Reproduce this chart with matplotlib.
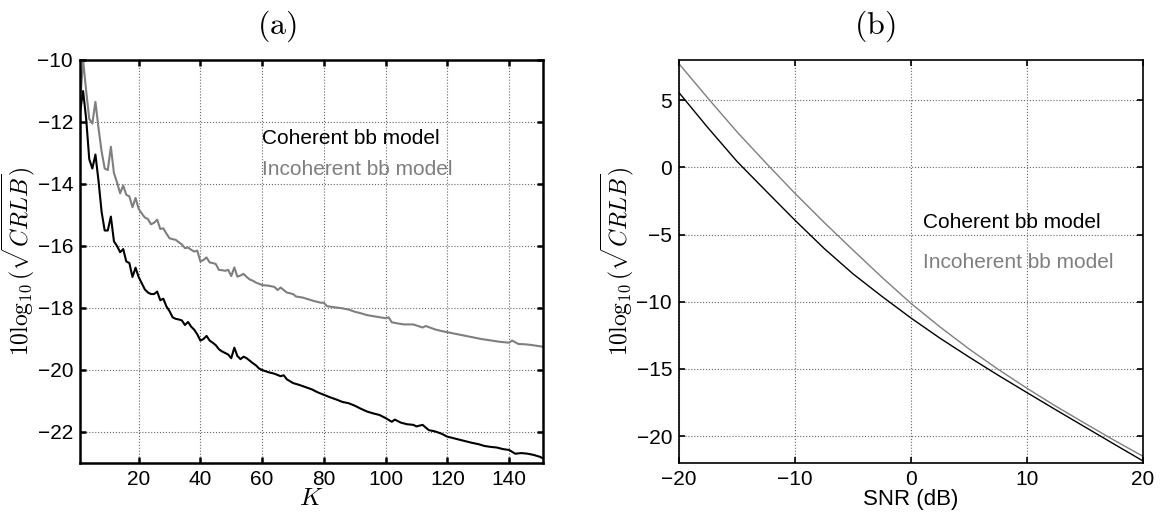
import matplotlib as mpl
mpl.use('Agg')
import matplotlib.pyplot as plt

# panel (a): CRLB versus number of snapshots K
k_coh = [1, 2, 3, 4, 5, 6, 7, 8, 9, 10, 11, 12, 13, 14, 15, 16, 17, 18, 19, 20,
         21, 22, 23, 24, 25, 26, 27, 28, 29, 30, 31, 32, 33, 34, 35, 36, 37, 38, 39, 40,
         41, 42, 43, 44, 45, 46, 47, 48, 49, 50, 51, 52, 53, 54, 55, 56, 57, 58, 59, 60,
         62, 64, 66, 67, 68, 70, 72, 74, 76, 78, 80, 82, 84, 86, 88, 90, 92, 94, 96, 98,
         100, 102, 103, 105, 107, 109, 110, 112, 114, 116, 118, 120, 122, 124, 126, 128,
         130, 132, 134, 136, 138, 140, 142, 144, 146, 148, 150, 151]
crlb_coh = [-11.7, -11.0, -11.9, -13.2, -13.5, -13.05, -13.9, -14.9, -15.5, -15.5,
            -15.05, -15.85, -16.0, -16.2, -16.1, -16.5, -16.55, -17.0, -16.7, -17.0,
            -17.2, -17.4, -17.5, -17.55, -17.55, -17.47, -17.75, -17.7, -17.95, -18.1,
            -18.3, -18.35, -18.37, -18.4, -18.55, -18.45, -18.6, -18.7, -18.85, -19.05,
            -19.0, -18.9, -19.05, -19.12, -19.2, -19.33, -19.4, -19.45, -19.5, -19.62,
            -19.28, -19.55, -19.65, -19.57, -19.62, -19.7, -19.78, -19.85, -19.95, -20.0,
            -20.07, -20.12, -20.2, -20.17, -20.3, -20.42, -20.48, -20.55, -20.62, -20.72,
            -20.8, -20.88, -20.95, -21.03, -21.07, -21.15, -21.25, -21.34, -21.4, -21.45,
            -21.55, -21.67, -21.6, -21.7, -21.75, -21.77, -21.82, -21.77, -21.94, -21.98,
            -22.05, -22.15, -22.2, -22.25, -22.3, -22.35, -22.39, -22.45, -22.48, -22.5,
            -22.55, -22.58, -22.7, -22.68, -22.7, -22.74, -22.8, -22.85]

k_inc = [1, 2, 3, 4, 5, 6, 7, 8, 9, 10, 11, 12, 13, 14, 15, 16, 17, 18, 19, 20,
         21, 22, 23, 24, 25, 26, 27, 28, 29, 30, 31, 32, 33, 34, 35, 36, 37, 38, 39, 40,
         41, 42, 43, 44, 45, 46, 47, 48, 49, 50, 51, 52, 53, 54, 55, 56, 57, 58, 60,
         62, 64, 65, 66, 68, 70, 71, 73, 75, 77, 79, 80, 81, 83, 86, 88, 90, 92, 94, 97,
         100, 101, 102, 104, 106, 109, 112, 113, 116, 118, 120, 122, 124, 126, 129, 131,
         133, 135, 137, 140, 141, 143, 145, 147, 149, 151]
crlb_inc = [-11.45, -10.0, -11.0, -11.9, -12.05, -11.35, -12.2, -12.95, -13.5, -13.55,
            -12.8, -13.65, -13.95, -14.3, -14.05, -14.35, -14.4, -14.75, -14.45, -14.8,
            -14.95, -15.08, -15.13, -15.3, -15.25, -15.15, -15.45, -15.43, -15.6, -15.75,
            -15.78, -15.8, -15.88, -15.95, -16.07, -16.05, -16.12, -16.18, -16.15, -16.5,
            -16.45, -16.37, -16.53, -16.55, -16.58, -16.77, -16.78, -16.8, -16.77, -16.97,
            -16.69, -16.99, -16.95, -16.9, -17.0, -17.08, -17.12, -17.18, -17.26,
            -17.28, -17.32, -17.42, -17.34, -17.5, -17.55, -17.63, -17.66, -17.72, -17.78,
            -17.83, -17.83, -17.94, -17.97, -18.01, -18.05, -18.12, -18.17, -18.23, -18.28,
            -18.33, -18.3, -18.46, -18.5, -18.53, -18.53, -18.63, -18.58, -18.69, -18.74,
            -18.78, -18.82, -18.86, -18.9, -18.96, -19.0, -19.03, -19.06, -19.09, -19.12,
            -19.05, -19.16, -19.17, -19.19, -19.22, -19.25]

# panel (b): CRLB versus SNR
snr = [-20, -17.5, -15, -12.5, -10, -7.5, -5, -2.5, 0, 2.5, 5, 7.5, 10, 12.5, 15, 17.5, 20]
val_coh = [5.57, 2.95, 0.45, -1.75, -3.93, -6.02, -7.92, -9.6, -11.21, -12.71, -14.11,
           -15.46, -16.76, -18.05, -19.32, -20.59, -21.85]
val_inc = [7.72, 5.15, 2.65, 0.33, -1.93, -4.08, -6.15, -8.18, -10.12, -11.87, -13.51,
           -15.02, -16.44, -17.78, -19.05, -20.3, -21.5]

label_coh = 'Coherent bb model'
label_inc = 'Incoherent bb model'
gray = '#7f7f7f'

plt.rcParams['font.family'] = ['Liberation Sans', 'DejaVu Sans']
plt.rcParams['mathtext.fontset'] = 'cm'
plt.rcParams['font.size'] = 15

dpi = 100
fig = plt.figure(dpi=dpi, figsize=(1162 / dpi, 516 / dpi))
ax1 = fig.add_axes([80 / 1162, 1 - 463 / 516, 463 / 1162, 403 / 516])
ax2 = fig.add_axes([679 / 1162, 1 - 463 / 516, 464 / 1162, 403 / 516])

ylab = r'$10\log_{10}(\sqrt{CRLB})$'

ax1.plot(k_coh, crlb_coh, color='black', lw=1.5)
ax1.plot(k_inc, crlb_inc, color=gray, lw=1.5)
ax1.set_xlim(1, 151)
ax1.set_ylim(-23, -10)
ax1.set_xticks(range(20, 141, 20))
ax1.set_yticks(range(-22, -9, 2))
ax1.set_xlabel(r'$K$', fontsize=18, labelpad=-2)
ax1.set_ylabel(ylab, fontsize=17, labelpad=0)
ax1.text(60, -12.52, label_coh, color='black', va='center', fontsize=15)
ax1.text(60, -13.54, label_inc, color=gray, va='center', fontsize=15)
fig.text(277 / 1162, 1 - 26 / 516, r'$\mathrm{(a)}$', ha='center', va='center', fontsize=23)

ax2.plot(snr, val_coh, color='black', lw=1.0)
ax2.plot(snr, val_inc, color=gray, lw=1.0)
ax2.set_xlim(-20, 20)
ax2.set_ylim(-22, 8)
ax2.set_xticks([-20, -10, 0, 10, 20])
ax2.set_yticks([-20, -15, -10, -5, 0, 5])
ax2.set_xlabel('SNR (dB)', fontsize=16, labelpad=0)
ax2.set_ylabel(ylab, fontsize=17, labelpad=0)
ax2.text(1.0, -4.09, label_coh, color='black', va='center', fontsize=15)
ax2.text(1.0, -7.04, label_inc, color=gray, va='center', fontsize=15)
fig.text(875 / 1162, 1 - 26 / 516, r'$\mathrm{(b)}$', ha='center', va='center', fontsize=23)

for ax, lw in ((ax1, 1.8), (ax2, 1.2)):
    ax.grid(True, linestyle=':', color='#666666', lw=0.8)
    ax.tick_params(direction='in', top=True, right=True, length=4, width=lw, pad=5)
    for s in ax.spines.values():
        s.set_linewidth(lw)

fig.savefig('out.png', dpi=dpi)
